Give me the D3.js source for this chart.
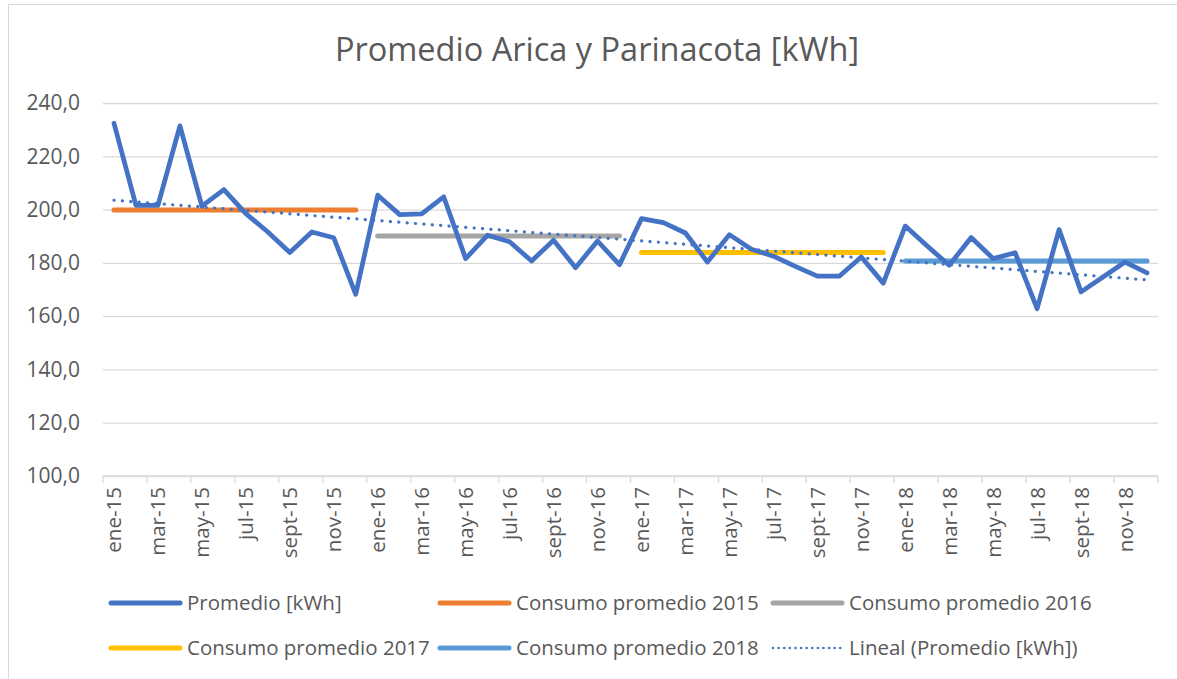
<!DOCTYPE html>
<html>
<head>
<meta charset="utf-8">
<script src="https://cdn.jsdelivr.net/npm/d3@7"></script>
<style>
body { margin: 0; background: #fff; }
svg text { font-family: "Open Sans", sans-serif; fill: #595959; }
</style>
</head>
<body>
<svg id="chart" width="1177" height="679"></svg>
<script>
// DATA
var monthNames = ['ene', 'feb', 'mar', 'abr', 'may', 'jun', 'jul', 'ago', 'sept', 'oct', 'nov', 'dic'];
var years = ['15', '16', '17', '18'];
var promedio = [
    232.4, 201.6, 201.6, 231.4, 201.3, 207.5, 198.5, 191.6, 183.9, 191.6, 189.4, 168.2,
    205.4, 198.1, 198.4, 204.8, 181.6, 190.4, 187.9, 180.7, 188.5, 178.2, 188.2, 179.3,
    196.6, 195.1, 191.2, 180.3, 190.6, 185.1, 182.5, 178.7, 175.0, 175.0, 182.2, 172.4,
    193.8, 186.3, 179.1, 189.5, 181.6, 183.8, 162.8, 192.5, 169.1, 174.7, 180.3, 176.2
];
var yearAvg = [199.8, 190.1, 183.9, 180.7];
var yearColors = ['#ED7D31', '#A5A5A5', '#FFC000', '#5B9BD5'];
var trendEnds = [203.5, 173.6];
var yTicks = [100, 120, 140, 160, 180, 200, 220, 240];

var months = [];
years.forEach(function(y) {
    monthNames.forEach(function(m) { months.push(m + '-' + y); });
});

// CHART
var svg = d3.select('#chart');
var plot = { left: 103, right: 1158, top: 103, bottom: 476 };

var x = d3.scaleBand().domain(months).range([plot.left, plot.right]).padding(0);
var y = d3.scaleLinear().domain([100, 240]).range([plot.bottom, plot.top]);
var cx = function(m) { return x(m) + x.bandwidth() / 2; };

// outer frame
svg.append('rect')
    .attr('x', 8.5).attr('y', 4.5).attr('width', 1200).attr('height', 700)
    .attr('fill', 'none').attr('stroke', '#d9d9d9').attr('stroke-width', 1);

// title
svg.append('text')
    .attr('x', 597).attr('y', 61)
    .attr('text-anchor', 'middle')
    .style('font-size', '32.5px')
    .text('Promedio Arica y Parinacota [kWh]');

// gridlines + y labels
var yAxis = d3.axisLeft(y).tickValues(yTicks)
    .tickSize(-(plot.right - plot.left))
    .tickPadding(23)
    .tickFormat(function(d) { return d3.format('.1f')(d).replace('.', ','); });
var gy = svg.append('g').attr('transform', 'translate(' + plot.left + ',0)').call(yAxis);
gy.select('.domain').remove();
gy.selectAll('.tick line').attr('stroke', '#d9d9d9').attr('stroke-width', 1.3);
gy.selectAll('.tick text').style('font-size', '21px').attr('fill', '#595959');

// x axis
var xAxis = svg.append('g');
xAxis.append('line')
    .attr('x1', plot.left).attr('x2', plot.right).attr('y1', plot.bottom).attr('y2', plot.bottom)
    .attr('stroke', '#d9d9d9').attr('stroke-width', 1.3);
var tickPos = months.filter(function(d, i) { return i % 2 === 0; }).map(function(m) { return x(m); });
tickPos.push(plot.right);
xAxis.selectAll('.xt').data(tickPos).enter().append('line')
    .attr('x1', function(d) { return d; }).attr('x2', function(d) { return d; })
    .attr('y1', plot.bottom).attr('y2', plot.bottom + 7)
    .attr('stroke', '#d9d9d9').attr('stroke-width', 1.3);
xAxis.selectAll('.xl').data(months.filter(function(d, i) { return i % 2 === 0; })).enter().append('text')
    .attr('transform', function(m) { return 'translate(' + (cx(m) + 7.5) + ',' + (plot.bottom + 11) + ') rotate(-90)'; })
    .attr('text-anchor', 'end')
    .style('font-size', '20.5px')
    .text(function(m) { return m; });

// yearly averages
var avgG = svg.append('g');
yearAvg.forEach(function(v, i) {
    var ms = months.slice(i * 12, i * 12 + 12);
    avgG.append('line')
        .attr('x1', cx(ms[0])).attr('x2', cx(ms[11]))
        .attr('y1', y(v)).attr('y2', y(v))
        .attr('stroke', yearColors[i]).attr('stroke-width', 5)
        .attr('stroke-linecap', 'round');
});

// main line
var line = d3.line()
    .x(function(d, i) { return cx(months[i]); })
    .y(function(d) { return y(d); });
svg.append('path')
    .datum(promedio)
    .attr('d', line)
    .attr('fill', 'none')
    .attr('stroke', '#4472C4')
    .attr('stroke-width', 4.75)
    .attr('stroke-linejoin', 'round')
    .attr('stroke-linecap', 'round');

// trend line (Lineal)
svg.append('line')
    .attr('x1', cx(months[0])).attr('x2', cx(months[months.length - 1]))
    .attr('y1', y(trendEnds[0])).attr('y2', y(trendEnds[1]))
    .attr('stroke', '#4472C4').attr('stroke-width', 3.2)
    .attr('stroke-dasharray', '0.1 8.3')
    .attr('stroke-linecap', 'round');

// LEGEND
var legendItems = [
    { label: 'Promedio [kWh]', color: '#4472C4', dotted: false },
    { label: 'Consumo promedio 2015', color: yearColors[0], dotted: false },
    { label: 'Consumo promedio 2016', color: yearColors[1], dotted: false },
    { label: 'Consumo promedio 2017', color: yearColors[2], dotted: false },
    { label: 'Consumo promedio 2018', color: yearColors[3], dotted: false },
    { label: 'Lineal (Promedio [kWh])', color: '#4472C4', dotted: true }
];
var colX = [111, 440, 773];
var rowY = [603, 648];
var lg = svg.append('g');
legendItems.forEach(function(it, i) {
    var lx = colX[i % 3], ly = rowY[Math.floor(i / 3)];
    var sw = lg.append('line')
        .attr('x1', lx).attr('x2', lx + 69).attr('y1', ly).attr('y2', ly)
        .attr('stroke', it.color)
        .attr('stroke-linecap', 'round');
    if (it.dotted) sw.attr('stroke-width', 2.5).attr('stroke-dasharray', '0.1 5.5');
    else sw.attr('stroke-width', 5);
    lg.append('text')
        .attr('x', lx + 76).attr('y', ly + 7)
        .style('font-size', '20.5px')
        .text(it.label);
});
</script>
</body>
</html>
